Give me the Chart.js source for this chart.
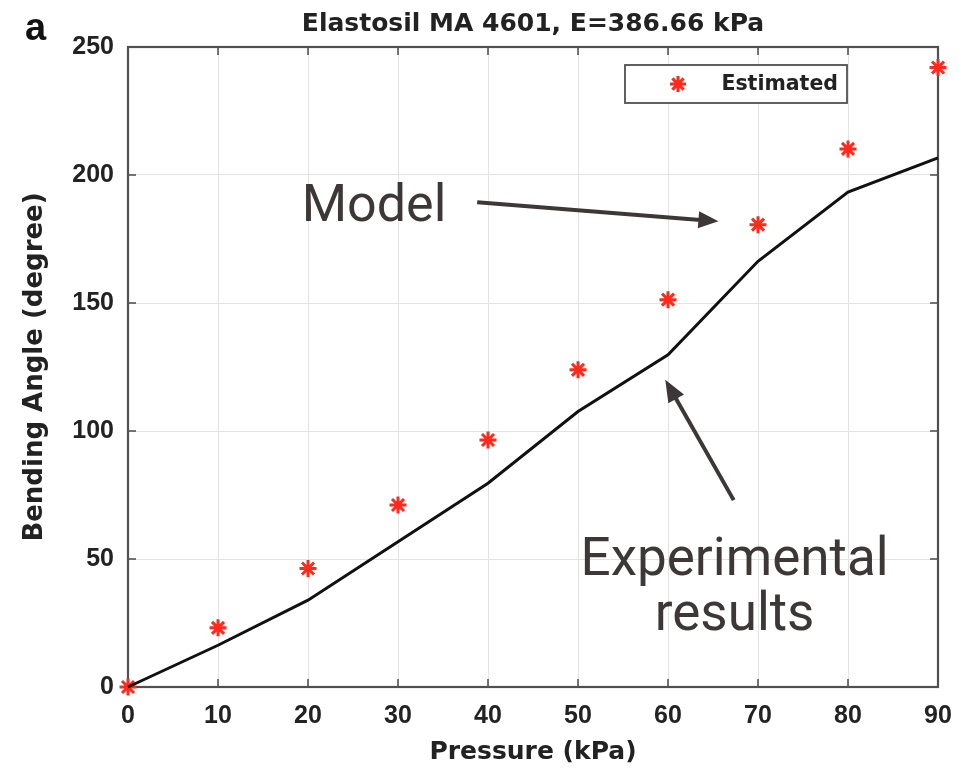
<!DOCTYPE html>
<html>
<head>
<meta charset="utf-8">
<script src="https://cdn.jsdelivr.net/npm/chart.js@4"></script>
<style>
  html, body { margin: 0; padding: 0; background: #ffffff; }
  #wrap { width: 959px; height: 769px; position: relative; }
</style>
</head>
<body>
<div id="wrap"><canvas id="c" width="959" height="769"></canvas></div>
<script>
// ---- data ----
const pressure = [0, 10, 20, 30, 40, 50, 60, 70, 80, 90];
const estimated = [0, 23.1, 46.3, 71.1, 96.5, 123.9, 151.3, 180.6, 210.2, 242];
const experimental = [0, 16.3, 33.9, 56.7, 79.6, 107.6, 129.8, 166.3, 193.3, 206.7];
const xTicks = [0, 10, 20, 30, 40, 50, 60, 70, 80, 90];
const yTicks = [0, 50, 100, 150, 200, 250];

const titleText = 'Elastosil MA 4601, E=386.66 kPa';
const xTitle = 'Pressure (kPa)';
const yTitle = 'Bending Angle (degree)';
const legendLabel = 'Estimated';
const panelLabel = 'a';

// annotations in data coordinates
const modelLabel = { text: 'Model', x: 19.3, y: 181.9 };
const modelArrow = { from: [38.8, 189.4], to: [65.6, 181.9] };
const expLabel = { lines: ['Experimental', 'results'], x: 67.4, y: [43.7, 22.2] };
const expArrow = { from: [67.3, 73.0], to: [59.7, 120.0] };

const RED = '#ff2a1c';
const INK = '#222222';
const ANN = '#3d3837';
const FONT = '"Liberation Sans", Arial, sans-serif';
const WIDE = '"DejaVu Sans", "Liberation Sans", sans-serif';

const lineData = pressure.map((p, i) => ({ x: p, y: experimental[i] }));
const starData = pressure.map((p, i) => ({ x: p, y: estimated[i] }));

function drawArrow(ctx, x1, y1, x2, y2, lw, headLen, headW) {
  const ang = Math.atan2(y2 - y1, x2 - x1);
  const bx = x2 - headLen * Math.cos(ang);
  const by = y2 - headLen * Math.sin(ang);
  ctx.beginPath();
  ctx.moveTo(x1, y1);
  ctx.lineTo(bx + 2 * Math.cos(ang), by + 2 * Math.sin(ang));
  ctx.lineWidth = lw;
  ctx.strokeStyle = ANN;
  ctx.stroke();
  ctx.beginPath();
  ctx.moveTo(x2, y2);
  ctx.lineTo(bx + headW / 2 * Math.sin(ang), by - headW / 2 * Math.cos(ang));
  ctx.lineTo(bx - headW / 2 * Math.sin(ang), by + headW / 2 * Math.cos(ang));
  ctx.closePath();
  ctx.fillStyle = ANN;
  ctx.fill();
}

const framePlugin = {
  id: 'frame',
  beforeDatasetsDraw(chart) {
    const { ctx, chartArea: a, scales: { x, y } } = chart;
    ctx.save();
    ctx.strokeStyle = '#4a4a4a';
    ctx.lineWidth = 1.5;
    const tl = 8;
    ctx.beginPath();
    xTicks.forEach(v => {
      const px = x.getPixelForValue(v);
      ctx.moveTo(px, a.bottom); ctx.lineTo(px, a.bottom - tl);
      ctx.moveTo(px, a.top); ctx.lineTo(px, a.top + tl);
    });
    yTicks.forEach(v => {
      const py = y.getPixelForValue(v);
      ctx.moveTo(a.left, py); ctx.lineTo(a.left + tl, py);
      ctx.moveTo(a.right, py); ctx.lineTo(a.right - tl, py);
    });
    ctx.stroke();
    ctx.lineWidth = 2.2;
    ctx.strokeStyle = '#505050';
    ctx.strokeRect(a.left, a.top, a.right - a.left, a.bottom - a.top);
    ctx.restore();
  },
  afterDatasetsDraw(chart) {
    const { ctx, chartArea: a, scales: { x, y } } = chart;
    ctx.save();
    // legend box
    const lx = a.right - 313, ly = a.top + 18, lw = 222, lh = 38;
    ctx.fillStyle = '#ffffff';
    ctx.fillRect(lx, ly, lw, lh);
    ctx.strokeStyle = '#505050';
    ctx.lineWidth = 1.8;
    ctx.strokeRect(lx, ly, lw, lh);
    // star marker
    const sx = lx + 53, sy = ly + lh / 2, r = 8;
    ctx.strokeStyle = RED;
    ctx.lineWidth = 3;
    ctx.beginPath();
    for (let k = 0; k < 4; k++) {
      const t = k * Math.PI / 4;
      ctx.moveTo(sx - r * Math.cos(t), sy - r * Math.sin(t));
      ctx.lineTo(sx + r * Math.cos(t), sy + r * Math.sin(t));
    }
    ctx.stroke();
    ctx.fillStyle = INK;
    ctx.font = 'bold 20.5px ' + WIDE;
    ctx.textAlign = 'right';
    ctx.textBaseline = 'middle';
    ctx.fillText(legendLabel, lx + lw - 9, sy + 1);

    // panel label
    ctx.textAlign = 'left';
    ctx.textBaseline = 'alphabetic';
    ctx.font = 'bold 38px ' + FONT;
    ctx.fillStyle = '#111111';
    ctx.fillText(panelLabel, 25, 40);

    // annotations
    ctx.fillStyle = ANN;
    ctx.font = '52px Roboto, "Liberation Sans", sans-serif';
    ctx.textAlign = 'left';
    ctx.fillText(modelLabel.text, x.getPixelForValue(modelLabel.x), y.getPixelForValue(modelLabel.y));
    ctx.font = '53px Roboto, "Liberation Sans", sans-serif';
    ctx.textAlign = 'center';
    expLabel.lines.forEach((t, i) => {
      ctx.fillText(t, x.getPixelForValue(expLabel.x), y.getPixelForValue(expLabel.y[i]));
    });
    drawArrow(ctx,
      x.getPixelForValue(modelArrow.from[0]), y.getPixelForValue(modelArrow.from[1]),
      x.getPixelForValue(modelArrow.to[0]), y.getPixelForValue(modelArrow.to[1]), 4, 20, 17);
    drawArrow(ctx,
      x.getPixelForValue(expArrow.from[0]), y.getPixelForValue(expArrow.from[1]),
      x.getPixelForValue(expArrow.to[0]), y.getPixelForValue(expArrow.to[1]), 4, 22, 18);
    ctx.restore();
  }
};

new Chart(document.getElementById('c'), {
  type: 'scatter',
  data: {
    datasets: [
      {
        label: 'Experimental results',
        data: lineData,
        showLine: true,
        borderColor: '#111111',
        borderWidth: 3,
        pointRadius: 0,
        fill: false,
        tension: 0,
        clip: false
      },
      {
        label: legendLabel,
        data: starData,
        showLine: false,
        pointStyle: 'star',
        pointRadius: 8.5,
        borderColor: RED,
        backgroundColor: RED,
        pointBorderWidth: 3,
        borderWidth: 3,
        clip: false
      }
    ]
  },
  options: {
    responsive: false,
    animation: false,
    devicePixelRatio: 1,
    layout: { padding: { left: 0, right: 21, top: 0, bottom: 0 } },
    plugins: {
      legend: { display: false },
      tooltip: { enabled: false },
      title: {
        display: true,
        text: titleText,
        fullSize: false,
        color: INK,
        font: { family: WIDE, size: 25, weight: 'bold', lineHeight: 1.2 },
        padding: { top: 9.5, bottom: 7.5 }
      }
    },
    scales: {
      x: {
        type: 'linear',
        min: 0, max: 90,
        afterFit: s => { s.height = 82; s.paddingLeft = 0; s.paddingRight = 0; },
        afterBuildTicks: s => { s.ticks = xTicks.map(v => ({ value: v })); },
        grid: { color: '#e3e3e3', lineWidth: 1, drawTicks: false },
        border: { display: false },
        ticks: {
          color: INK, padding: 14, maxRotation: 0, autoSkip: false,
          font: { family: FONT, size: 25, weight: 'bold' }
        },
        title: {
          display: true, text: xTitle, color: INK,
          font: { family: WIDE, size: 25, weight: 'bold', lineHeight: 1.2 },
          padding: { top: 0, bottom: 2 }
        }
      },
      y: {
        type: 'linear',
        min: 0, max: 250,
        afterFit: s => { s.width = 128; s.paddingTop = 0; s.paddingBottom = 0; },
        afterBuildTicks: s => { s.ticks = yTicks.map(v => ({ value: v })); },
        grid: { color: '#e3e3e3', lineWidth: 1, drawTicks: false },
        border: { display: false },
        ticks: {
          color: INK, padding: 14, autoSkip: false,
          font: { family: FONT, size: 25, weight: 'bold' }
        },
        title: {
          display: true, text: yTitle, color: INK,
          font: { family: WIDE, size: 26, weight: 'bold', lineHeight: 1.2 },
          padding: { top: 19.4, bottom: 0 }
        }
      }
    }
  },
  plugins: [framePlugin]
});
</script>
</body>
</html>
